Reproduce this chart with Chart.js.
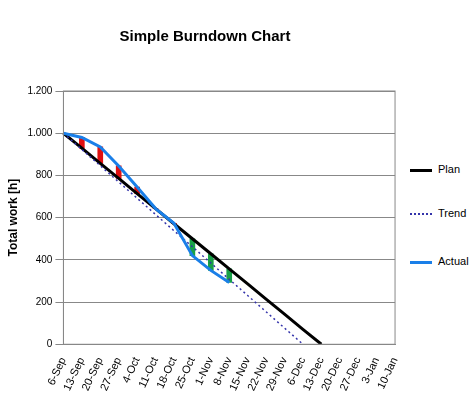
<!DOCTYPE html><html><head><script src="https://cdn.jsdelivr.net/npm/chart.js@4"></script>
<style>body{margin:0;background:#fff;font-family:"Liberation Sans",Arial,sans-serif}
#w{position:absolute;left:0;top:0;width:410px;height:408px}
.lg{position:absolute;left:410px;font-size:11px;color:#000}
.lg i{display:inline-block;width:22px;vertical-align:middle;margin-right:6px}
</style></head><body>
<div id="w"><canvas id="c"></canvas></div>
<div class="lg" style="top:163px"><i style="border-top:3px solid #000"></i>Plan</div>
<div class="lg" style="top:207px"><i style="border-top:2px dotted #3333aa"></i>Trend</div>
<div class="lg" style="top:255px"><i style="border-top:3px solid #1a7fe8"></i>Actual</div>
<script>
const labels=["6-Sep","13-Sep","20-Sep","27-Sep","4-Oct","11-Oct","18-Oct","25-Oct","1-Nov","8-Nov","15-Nov","22-Nov","29-Nov","6-Dec","13-Dec","20-Dec","27-Dec","3-Jan","10-Jan"];
const plan=[1000,929,857,786,714,643,571,500,429,357,286,214,143,71,0];
const trend=[1000,923,846,769,692,615,538,462,385,308,231,154,77,0];
const actual=[1000,980,935,845,745,643,573,420,350,293];
const over=[], under=[];
actual.forEach((a,i)=>{const p=plan[i];if(i===0){over.push(null);under.push(null);return;}
 if(a>=p){over.push([p,a]);under.push(null);}else{under.push([a,p]);over.push(null);}});
const box={id:'box',afterDraw(ch){const a=ch.chartArea,c=ch.ctx;c.save();c.strokeStyle='#888';c.lineWidth=1;c.strokeRect(a.left,a.top,a.right-a.left,a.bottom-a.top);c.restore();}};
new Chart(document.getElementById('c'),{plugins:[box],data:{labels,datasets:[
{type:'bar',data:over,backgroundColor:'#e01010',barThickness:5,order:3,grouped:false},
{type:'bar',data:under,backgroundColor:'#18a048',barThickness:5,order:3,grouped:false},
{type:'line',data:plan,borderColor:'#000',borderWidth:3,pointRadius:0,order:2},
{type:'line',data:trend,borderColor:'#3333aa',borderWidth:1.5,borderDash:[2,3],pointRadius:0,order:1},
{type:'line',data:actual,borderColor:'#1a7fe8',borderWidth:3,pointRadius:0,order:0}
]},options:{responsive:true,maintainAspectRatio:false,animation:false,
layout:{padding:{top:20,right:2,left:2,bottom:12}},
plugins:{legend:{display:false},tooltip:{enabled:false},title:{display:true,text:'Simple Burndown Chart',color:'#000',font:{size:15,weight:'bold',family:'Liberation Sans'},padding:{top:8,bottom:45}}},
scales:{x:{offset:false,grid:{display:false},border:{color:'#888'},ticks:{color:'#000',maxRotation:65,minRotation:65,autoSkip:false,font:{size:11,family:'Liberation Sans'}}},
y:{min:0,max:1200,border:{color:'#888'},grid:{color:'#888'},title:{display:true,text:'Total work [h]',color:'#000',font:{size:12,weight:'bold',family:'Liberation Sans'}},
ticks:{stepSize:200,color:'#000',font:{size:10,family:'Liberation Sans'},callback:v=>v>=1000?Math.floor(v/1000)+'.'+String(v%1000).padStart(3,'0'):v}}}}});
</script></body></html>
